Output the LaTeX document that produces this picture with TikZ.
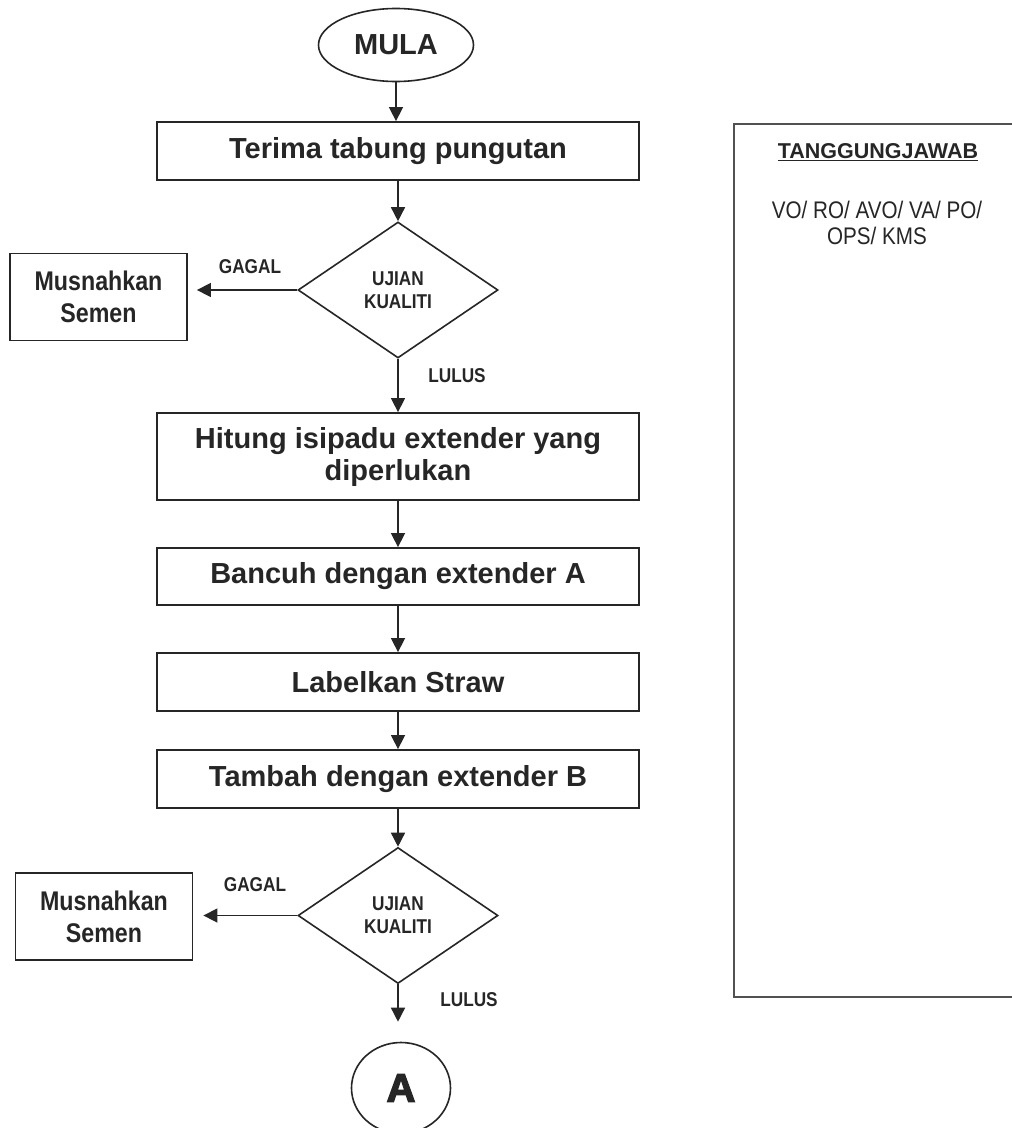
\documentclass[tikz,border=0pt]{standalone}
\usepackage{fontspec}
\setmainfont{Liberation Sans}
\newfontfamily\narrowsans[FakeStretch=0.86]{Liberation Sans}
\newfontfamily\heavysans[BoldFeatures={FakeBold=3.5}]{Liberation Sans}
\usetikzlibrary{shapes.geometric,arrows.meta}
\definecolor{ink}{HTML}{262626}
\begin{document}
\begin{tikzpicture}[x=1pt,y=-1pt,
  every node/.style={text=ink, inner sep=0pt},
  terminal/.style={ellipse, draw=ink, line width=1.6pt, minimum width=155pt, minimum height=73pt,
    font=\bfseries\fontsize{29}{33}\selectfont},
  proc/.style={rectangle, draw=ink, line width=1.8pt, minimum width=482pt, align=center,
    font=\bfseries\fontsize{29}{32}\selectfont},
  decision/.style={diamond, draw=ink, line width=1.6pt, minimum width=200pt, minimum height=136pt,
    align=center, font=\narrowsans\bfseries\fontsize{20}{23}\selectfont},
  discard/.style={rectangle, draw=ink, line width=1.8pt, minimum width=177pt, minimum height=87pt,
    align=center, font=\narrowsans\bfseries\fontsize{27}{32}\selectfont},
  connector/.style={ellipse, draw=ink, line width=1.6pt, minimum width=99pt, minimum height=91pt,
    font=\heavysans\bfseries\fontsize{40}{44}\selectfont},
  tag/.style={font=\narrowsans\bfseries\fontsize{20}{22}\selectfont},
  flow/.style={draw=ink, line width=1.5pt, -{Triangle[width=14pt,length=14pt]}},
  panel/.style={rectangle, draw=ink!80, line width=1.8pt}
]
\useasboundingbox (0,0) rectangle (1012,1128);
\clip (0,0) rectangle (1012,1128);
\fill[white] (0,0) rectangle (1012,1128);

% main column
\node[terminal] (start) at (396,45) {MULA};
\node[proc, minimum height=58pt] (recv) at (398,151) {\raisebox{-2pt}{Terima tabung pungutan}};
\node[decision] (qc1) at (398,290) {UJIAN\\KUALITI};
\node[discard] (bin1) at (98.5,297) {Musnahkan\\Semen};
\node[proc, minimum height=87pt] (calc) at (398,456.5) {Hitung isipadu extender yang\\diperlukan};
\node[proc, minimum height=57pt] (mixA) at (398,576.5) {\raisebox{-2pt}{Bancuh dengan extender A}};
\node[proc, minimum height=58pt] (straw) at (398,682) {\raisebox{-2pt}{Labelkan Straw}};
\node[proc, minimum height=58pt] (addB) at (398,779) {\raisebox{-2pt}{Tambah dengan extender B}};
\node[decision] (qc2) at (398,915.5) {UJIAN\\KUALITI};
\node[discard] (bin2) at (104,916.5) {Musnahkan\\Semen};
\node[connector] (conA) at (401,1088) {A};

% branch labels
\node[tag] (fail1) at (250,267) {GAGAL};
\node[tag] (pass1) at (457,376) {LULUS};
\node[tag] (fail2) at (255,885) {GAGAL};
\node[tag] (pass2) at (469,1000) {LULUS};

% connectors
\draw[flow] (start.south) -- (start.south |- recv.north);
\draw[flow] (recv) -- (qc1);
\draw[flow, shorten >=9pt] (qc1.west) -- (qc1.west -| bin1.east);
\draw[flow] (qc1) -- (calc);
\draw[flow] (calc) -- (mixA);
\draw[flow] (mixA) -- (straw);
\draw[flow] (straw) -- (addB);
\draw[flow] (addB) -- (qc2);
\draw[flow, shorten >=10pt] (qc2.west) -- (qc2.west -| bin2.east);
\draw[flow, shorten >=20pt] (qc2.south) -- (qc2.south |- conA.north);

% responsibility panel
\node[panel, anchor=north west, minimum width=320pt, minimum height=873pt] (resp) at (733,123) {};
\node[font=\bfseries\fontsize{21.5}{24}\selectfont] (respHead) at (878,152) {\underline{TANGGUNGJAWAB}};
\node[font=\narrowsans\fontsize{24}{26}\selectfont, align=center] (respWho) at (877,223)
  {VO/ RO/ AVO/ VA/ PO/\\OPS/ KMS};
\end{tikzpicture}
\end{document}
